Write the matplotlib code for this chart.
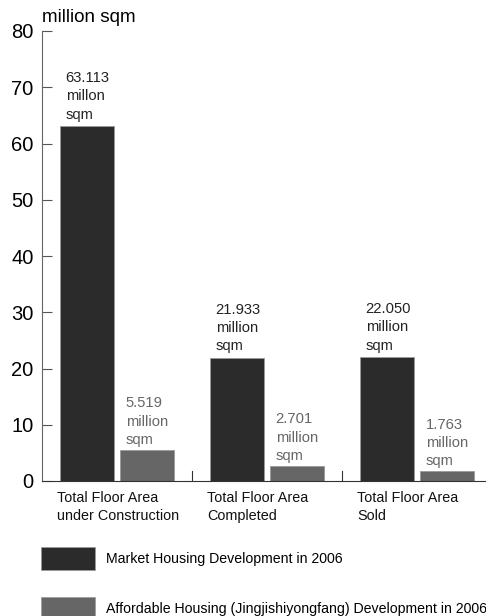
import matplotlib.pyplot as plt
from matplotlib.patches import Rectangle

plt.rcParams['font.family'] = ['Liberation Sans', 'DejaVu Sans']

categories = ["Total Floor Area\nunder Construction", "Total Floor Area\nCompleted", "Total Floor Area\nSold"]
market = [63.113, 21.933, 22.050]
affordable = [5.519, 2.701, 1.763]
market_labels = ["63.113\nmillon\nsqm", "21.933\nmillion\nsqm", "22.050\nmillion\nsqm"]
affordable_labels = ["5.519\nmillion\nsqm", "2.701\nmillion\nsqm", "1.763\nmillion\nsqm"]
legend_names = ["Market Housing Development in 2006",
                "Affordable Housing (Jingjishiyongfang) Development in 2006"]
yticks = [0, 10, 20, 30, 40, 50, 60, 70, 80]

dark = '#2b2b2b'
grey = '#666666'

fig = plt.figure(figsize=(4.86, 6.16), dpi=100)
ax = fig.add_axes([42/486, 1-481/616, 444/486, 450/616])

w = 0.36
for i in range(3):
    ax.bar(i + 0.30, market[i], width=w, color=dark, edgecolor='#9a9a9a', linewidth=0.6)
    ax.bar(i + 0.70, affordable[i], width=w, color=grey, edgecolor='#9a9a9a', linewidth=0.6)
    ax.annotate(market_labels[i], (i + 0.12, market[i]), xytext=(4, 3), textcoords='offset points',
                ha='left', va='bottom', fontsize=10.6, color='#222222', linespacing=1.4)
    ax.annotate(affordable_labels[i], (i + 0.52, affordable[i]), xytext=(4, 2), textcoords='offset points',
                ha='left', va='bottom', fontsize=10.6, color=grey, linespacing=1.4)
    ax.text(i + 0.10, -1.8, categories[i], ha='left', va='top', fontsize=10.4, color='#111111',
            linespacing=1.35)

# group separators
for s in [1, 2]:
    ax.plot([s, s], [0, 1.8], color='#333333', lw=0.8)

ax.set_xlim(0, 444/150)
ax.set_ylim(0, 80)
ax.set_xticks([])
ax.set_yticks(yticks)
ax.tick_params(axis='y', direction='in', length=7, width=0.8, color='#555555', labelsize=14.5, pad=6)
for side in ['top', 'right']:
    ax.spines[side].set_visible(False)
ax.spines['left'].set_color('#666666')
ax.spines['bottom'].set_color('#333333')
ax.spines['left'].set_linewidth(0.8)
ax.spines['bottom'].set_linewidth(0.8)

fig.text(42/486, 1-18/616, "million sqm", ha='left', va='center', fontsize=13.6)

# legend
for k, (name, c) in enumerate(zip(legend_names, [dark, grey])):
    y0 = 1 - (547 + 50*k + 23)/616
    fig.patches.append(Rectangle((41/486, y0), 54/486, 23/616, transform=fig.transFigure,
                                 facecolor=c, edgecolor='#9a9a9a', linewidth=0.5))
    fig.text(106/486, y0 + 11.5/616, name, ha='left', va='center', fontsize=10.2)

fig.savefig('out.png', dpi=100)
